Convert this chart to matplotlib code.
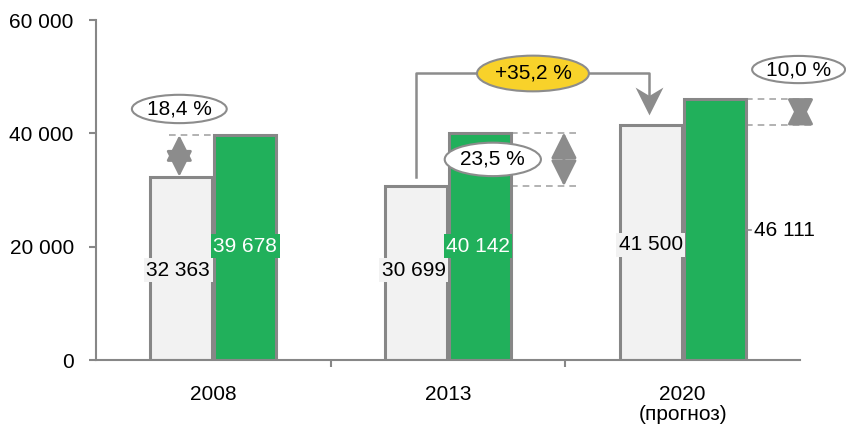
import matplotlib.pyplot as plt
from matplotlib.patches import Ellipse
from matplotlib.path import Path

plt.rcParams['font.family'] = ['Liberation Sans', 'DejaVu Sans']

# data
years = ["2008", "2013", "2020\n(прогноз)"]
grey_vals = [32363, 30699, 41500]
green_vals = [39678, 40142, 46111]
grey_labels = ["32 363", "30 699", "41 500"]
green_labels = ["39 678", "40 142", "46 111"]
diff_labels = ["18,4 %", "23,5 %", "10,0 %"]
growth_label = "+35,2 %"
yticks = [0, 20000, 40000, 60000]
ytick_labels = ["0", "20 000", "40 000", "60 000"]

GREY = "#f2f2f2"
EDGE = "#878787"
GREEN = "#21b05b"
LINE = "#8c8c8c"
FS = 15

fig = plt.figure(figsize=(8.46, 4.26), dpi=100)
ax = fig.add_axes([96/846, 66/426, 704/846, 340/426])

x = list(range(len(years)))
w = 0.264
off = 0.136
ax.bar([i - off for i in x], grey_vals, w, color=GREY, edgecolor=EDGE, linewidth=2.2, zorder=2)
ax.bar([i + off for i in x], green_vals, w, color=GREEN, edgecolor=EDGE, linewidth=2.2, zorder=2)

ax.set_xlim(-0.5, 2.5)
ax.set_ylim(0, 60000)
ax.set_yticks(yticks)
ax.set_yticklabels(ytick_labels, fontsize=FS)
ax.set_xticks(x)
ax.set_xticklabels(years, fontsize=FS, linespacing=1.1)
ax.set_xticks([0.5, 1.5], minor=True)
ax.tick_params(axis='x', which='major', length=0, pad=18)
ax.tick_params(axis='x', which='minor', length=5, color=EDGE, width=1.5)
ax.tick_params(axis='y', length=5, color=EDGE, width=1.5, pad=11)
for s in ['top', 'right']:
    ax.spines[s].set_visible(False)
for s in ['left', 'bottom']:
    ax.spines[s].set_color(EDGE)
    ax.spines[s].set_linewidth(1.5)

# value labels
grey_pos = [(-0.15, 15800), (0.855, 15800), (1.864, 20300)]
green_pos = [(0.136, 20100), (1.128, 20100)]
for (px, py), t in zip(grey_pos, grey_labels):
    ax.text(px, py, t, fontsize=FS, ha='center', va='center', zorder=4,
            bbox=dict(boxstyle='square,pad=0.12', fc=GREY, ec='none'))
for (px, py), t in zip(green_pos, green_labels[:2]):
    ax.text(px, py, t, fontsize=FS, ha='center', va='center', color='white', zorder=4,
            bbox=dict(boxstyle='square,pad=0.12', fc=GREEN, ec='none'))
ax.text(2.305, 22900, green_labels[2], fontsize=FS, ha='left', va='center')
ax.plot([2.27, 2.292], [22900, 22900], color=LINE, lw=1.2, clip_on=False)

# dashed guides and double arrows
dash = dict(color="#a6a6a6", lw=1.2, ls=(0, (4, 3)), clip_on=False, zorder=1)
ax.plot([-0.19, 0.0], [green_vals[0]] * 2, **dash)
ax.plot([1.27, 1.55], [green_vals[1]] * 2, **dash)
ax.plot([1.27, 1.55], [grey_vals[1]] * 2, **dash)
ax.plot([2.27, 2.555], [green_vals[2]] * 2, **dash)
ax.plot([2.27, 2.555], [grey_vals[2]] * 2, **dash)

arrow_x = [-0.145, 1.494, 2.502]
for ax_x, lo, hi in zip(arrow_x, grey_vals, green_vals):
    ax.annotate("", xy=(ax_x, hi), xytext=(ax_x, lo), annotation_clip=False,
                arrowprops=dict(arrowstyle='<|-|>,head_length=1.0,head_width=0.5',
                                color=LINE, lw=2, mutation_scale=16,
                                shrinkA=0, shrinkB=0))

# connector 2013 -> 2020 with stealth arrow head
ax.plot([0.864, 0.864, 1.855, 1.855], [32300, 50640, 50640, 46500],
        color=LINE, lw=1.8, clip_on=False, zorder=3)
stealth = Path([(0, -0.5), (-0.5, 0.5), (0, 0.2), (0.5, 0.5), (0, -0.5)],
               [Path.MOVETO, Path.LINETO, Path.LINETO, Path.LINETO, Path.CLOSEPOLY])
ax.plot([1.855], [45750], marker=stealth, markersize=20, color=LINE,
        markeredgewidth=0, clip_on=False, zorder=3)

# ellipses
ell_pos = [(-0.145, 44300), (1.191, 35400), (2.494, 51260)]
ell_w = [0.404, 0.41, 0.396]
ell_h = [5000, 5900, 4800]
for (ex, ey), ew, eh, t in zip(ell_pos, ell_w, ell_h, diff_labels):
    ax.add_patch(Ellipse((ex, ey), ew, eh, fc='white', ec=LINE, lw=1.5,
                         clip_on=False, zorder=5))
    ax.text(ex, ey, t, fontsize=FS, ha='center', va='center', zorder=6)
ax.add_patch(Ellipse((1.362, 50560), 0.477, 6300, fc='#f8d22a', ec=LINE, lw=1.5,
                     clip_on=False, zorder=5))
ax.text(1.362, 50560, growth_label, fontsize=FS, ha='center', va='center', zorder=6)

fig.savefig("out.png", dpi=100)
